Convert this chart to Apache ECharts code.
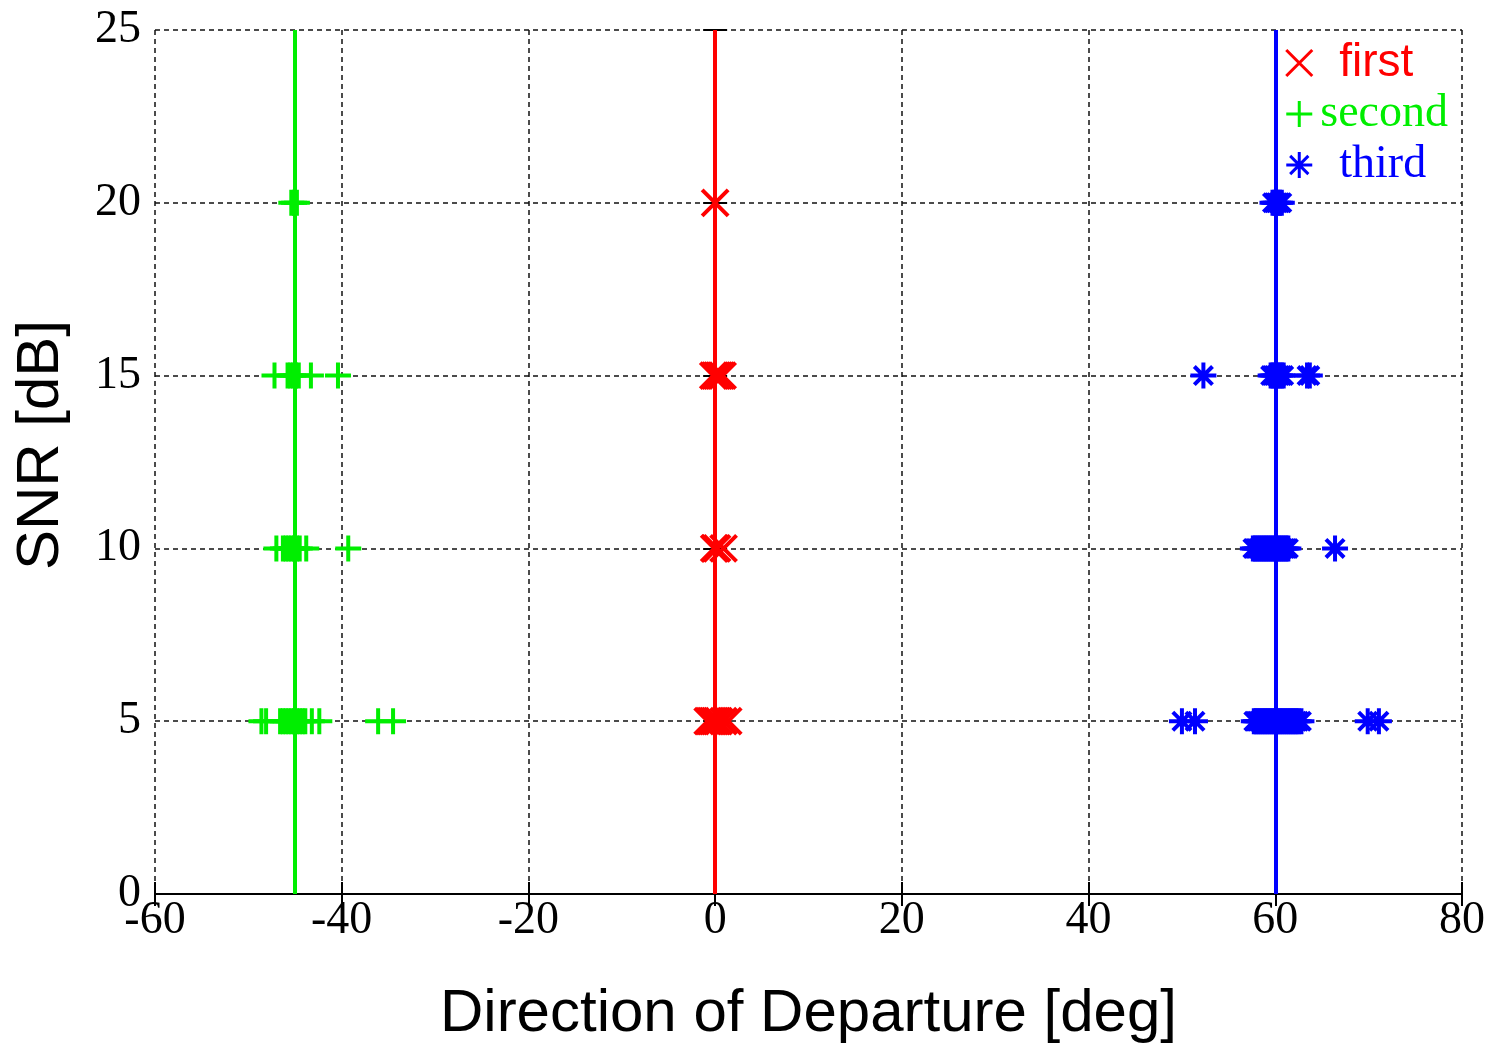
<!DOCTYPE html>
<html>
<head>
<meta charset="utf-8">
<title>SNR vs Direction of Departure</title>
<script src="https://cdn.jsdelivr.net/npm/echarts@6/dist/echarts.min.js"></script>
<style>
  html, body { margin: 0; padding: 0; background: #fff; }
  #chart { width: 1493px; height: 1049px; }
</style>
</head>
<body>
<div id="chart"></div>
<script>
// estimated angles [deg], grouped by SNR [dB]
var snrLevels = [5, 10, 15, 20];
var trueAngles = [0, -45, 60];   // first, second, third

var firstAngles = {
    5: [-0.8, -0.6, -0.4, -0.2, 0, 0.2, 0.4, 0.9, 1.4],
    10: [-0.1, 0, 0.2, 0.9],
    15: [-0.2, 0, 0.2, 0.4, 0.6, 0.8],
    20: [0]
};
var secondAngles = {
    5: [-48.6, -48.1, -46.6, -46.3, -46.0, -45.7, -45.4, -45.1, -44.8, -44.5, -44.2, -43.9, -43.2, -42.4, -36.1, -34.5],
    10: [-47.0, -46.3, -46.0, -45.7, -45.4, -45.1, -44.8, -44.5, -43.8, -39.3],
    15: [-47.2, -45.8, -45.5, -45.2, -44.9, -44.6, -43.3, -40.4],
    20: [-45.4, -45.1, -44.8]
};
var thirdAngles = {
    5: [50.0, 51.4, 57.7, 57.9, 58.1, 58.3, 58.5, 58.7, 58.9, 59.1, 59.3, 59.5, 59.7, 59.9, 60.1, 60.3, 60.5, 60.7, 60.9, 61.1, 61.3, 61.5, 61.7, 61.9, 62.1, 62.3, 62.5, 62.8, 69.9, 71.1],
    10: [57.6, 57.8, 58.0, 58.2, 58.4, 58.6, 58.8, 59.0, 59.2, 59.4, 59.6, 59.8, 60.0, 60.2, 60.4, 60.6, 60.8, 61.0, 61.2, 61.4, 66.4],
    15: [52.3, 59.5, 59.7, 59.9, 60.1, 60.3, 60.5, 60.7, 60.9, 63.4, 63.7],
    20: [59.7, 59.9, 60.1, 60.3, 60.5, 60.7]
};

var xTicks = { min: -60, max: 80, interval: 20 };
var yTicks = { min: 0, max: 25, interval: 5 };

function toPoints(byLevel) {
    var pts = [];
    snrLevels.forEach(function (s) {
        (byLevel[s] || []).forEach(function (a) { pts.push([a, s]); });
    });
    return pts;
}

var crossPath = 'path://M0,0L10,10M10,0L0,10';
var plusPath = 'path://M5,0L5,10M0,5L10,5';
var starPath = 'path://M5,0L5,10M0,5L10,5M1.5,1.5L8.5,8.5M8.5,1.5L1.5,8.5';

var serif = '"Liberation Serif", "Times New Roman", serif';
var sans = '"Liberation Sans", Arial, sans-serif';

function markerSeries(name, color, symbol, pts, truth) {
    return {
        name: name,
        type: 'scatter',
        data: pts,
        symbol: symbol,
        symbolSize: 26,
        itemStyle: { color: 'none', borderColor: color, borderWidth: 4, opacity: 1 },
        emphasis: { disabled: true },
        markLine: {
            silent: true,
            symbol: 'none',
            label: { show: false },
            lineStyle: { color: color, width: 4, type: 'solid' },
            emphasis: { disabled: true },
            data: [{ xAxis: truth }]
        }
    };
}

var charts = echarts.init(document.getElementById('chart'));
var axisLabelStyle = { color: '#000', fontFamily: serif, fontSize: 46 };
var splitStyle = { show: true, lineStyle: { color: '#111', width: 1.5, type: [5, 4] } };

var option = {
    backgroundColor: '#fff',
    animation: false,
    grid: { left: 155, right: 31, top: 30, bottom: 153 },
    legend: {
        right: 40,
        top: 35,
        orient: 'vertical',
        itemWidth: 26,
        itemHeight: 26,
        itemGap: 5,
        itemStyle: { borderWidth: 3 },
        data: ['first', 'second', 'third'],
        formatter: function (name) { return '{' + name + '|' + name + '}'; },
        textStyle: {
            rich: {
                first: { color: '#ff0000', fontFamily: sans, fontSize: 46, lineHeight: 50, padding: [0, 0, 0, 22] },
                second: { color: '#00ee00', fontFamily: serif, fontSize: 46, lineHeight: 50, padding: [0, 0, 0, 3] },
                third: { color: '#0000ff', fontFamily: serif, fontSize: 46, lineHeight: 50, padding: [0, 0, 0, 22] }
            }
        }
    },
    xAxis: [{
        type: 'value',
        min: xTicks.min, max: xTicks.max, interval: xTicks.interval,
        name: 'Direction of Departure [deg]',
        nameLocation: 'middle',
        nameGap: 90,
        nameTextStyle: { color: '#000', fontFamily: sans, fontSize: 60 },
        axisLine: { lineStyle: { color: '#000', width: 2 } },
        axisTick: { inside: true, length: 12, lineStyle: { color: '#000', width: 2 } },
        axisLabel: Object.assign({ margin: 4 }, axisLabelStyle),
        splitLine: splitStyle
    }, {
        type: 'value', position: 'top',
        min: xTicks.min, max: xTicks.max, interval: xTicks.interval,
        axisLine: { lineStyle: { color: '#000', width: 2 } },
        axisTick: { inside: true, length: 12, lineStyle: { color: '#000', width: 2 } },
        axisLabel: { show: false },
        splitLine: { show: false }
    }],
    yAxis: [{
        type: 'value',
        min: yTicks.min, max: yTicks.max, interval: yTicks.interval,
        name: 'SNR [dB]',
        nameLocation: 'middle',
        nameGap: 84,
        nameTextStyle: { color: '#000', fontFamily: sans, fontSize: 60, padding: [0, 0, 0, 34] },
        axisLine: { lineStyle: { color: '#000', width: 2 } },
        axisTick: { inside: true, length: 12, lineStyle: { color: '#000', width: 2 } },
        axisLabel: Object.assign({ margin: 14 }, axisLabelStyle),
        splitLine: splitStyle
    }, {
        type: 'value', position: 'right',
        min: yTicks.min, max: yTicks.max, interval: yTicks.interval,
        axisLine: { lineStyle: { color: '#000', width: 2 } },
        axisTick: { inside: true, length: 12, lineStyle: { color: '#000', width: 2 } },
        axisLabel: { show: false },
        splitLine: { show: false }
    }],
    series: [
        markerSeries('first', '#ff0000', crossPath, toPoints(firstAngles), trueAngles[0]),
        markerSeries('second', '#00ee00', plusPath, toPoints(secondAngles), trueAngles[1]),
        markerSeries('third', '#0000ff', starPath, toPoints(thirdAngles), trueAngles[2])
    ]
};

charts.setOption(option);
</script>
</body>
</html>
